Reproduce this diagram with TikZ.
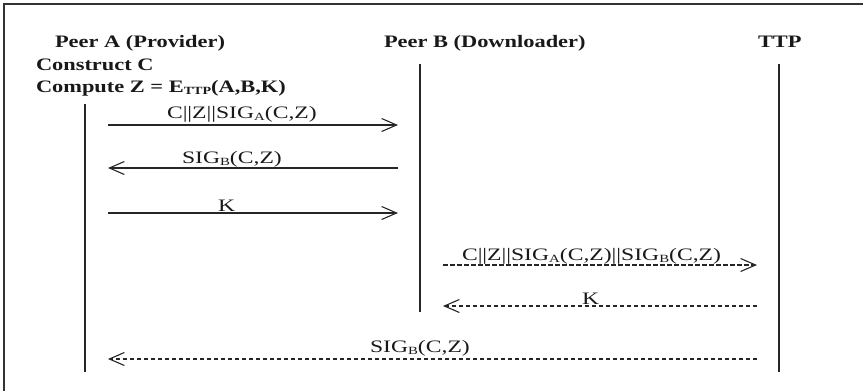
\documentclass[tikz,border=0pt]{standalone}
\usepackage{fontspec}
\setmainfont{Liberation Serif}
\usepackage{graphicx}
\usetikzlibrary{arrows.meta}
\newcommand{\hdr}[1]{\scalebox{1.28}[1]{\fontsize{17.5}{21}\selectfont\bfseries #1}}
\newcommand{\lbl}[1]{\scalebox{1.35}[1]{\fontsize{17.5}{21}\selectfont #1}}
\newcommand{\sbs}[1]{\raisebox{-0.35ex}{\fontsize{11}{11}\selectfont #1}}
\tikzset{
  x=1pt, y=-1pt,
  txt/.style={anchor=base west, inner sep=0pt, outer sep=0pt, text=black!90},
  life/.style={draw=black!85, line width=1.4pt},
  msg/.style={draw=black!85, line width=1.1pt, -{Straight Barb[length=15pt,width=13pt,line width=1.1pt]}},
  dmsg/.style={msg, dash pattern=on 4.5pt off 2.5pt},
  frame/.style={draw=black!80, line width=1.6pt}
}
\begin{document}
\begin{tikzpicture}
\useasboundingbox (0,0) rectangle (863,391);
% frame
\draw[frame] (863,4) -- (4,4) -- (4,391);
% headers
\node[txt] (pa) at (55,47) {\hdr{Peer A (Provider)}};
\node[txt] (pb) at (384,47) {\hdr{Peer B (Downloader)}};
\node[txt] (ttp) at (758,47) {\hdr{TTP}};
\node[txt] (cc) at (36,70) {\hdr{Construct C}};
\node[txt] (cz) at (36,92) {\hdr{Compute Z = E\sbs{TTP}(A,B,K)}};
% lifelines
\coordinate (a0) at (85,104); \coordinate (a1) at (85,372);
\coordinate (b0) at (420,64); \coordinate (b1) at (420,312);
\coordinate (t0) at (779,64); \coordinate (t1) at (779,372);
\draw[life] (a0) -- (a1);
\draw[life] (b0) -- (b1);
\draw[life] (t0) -- (t1);
% message endpoints
\coordinate (m1a) at (108,125); \coordinate (m1b) at (398,125);
\coordinate (m2a) at (108,168); \coordinate (m2b) at (398,168);
\coordinate (m3a) at (108,213); \coordinate (m3b) at (398,213);
\coordinate (m4a) at (443,265); \coordinate (m4b) at (757,265);
\coordinate (m5a) at (443,306); \coordinate (m5b) at (757,306);
\coordinate (m6a) at (108,359); \coordinate (m6b) at (757,359);
\draw[msg] (m1a) -- (m1b);
\draw[msg] (m2b) -- (m2a);
\draw[msg] (m3a) -- (m3b);
\draw[dmsg] (m4a) -- (m4b);
\draw[dmsg] (m5b) -- (m5a);
\draw[dmsg] (m6b) -- (m6a);
% labels
\node[txt] (l1) at (167,118) {\lbl{C||Z||SIG\sbs{A}(C,Z)}};
\node[txt] (l2) at (182,163) {\lbl{SIG\sbs{B}(C,Z)}};
\node[txt] (l3) at (218,211) {\lbl{K}};
\node[txt] (l4) at (462,260) {\lbl{C||Z||SIG\sbs{A}(C,Z)||SIG\sbs{B}(C,Z)}};
\node[txt] (l5) at (582,304) {\lbl{K}};
\node[txt] (l6) at (370,352) {\lbl{SIG\sbs{B}(C,Z)}};
\end{tikzpicture}
\end{document}
